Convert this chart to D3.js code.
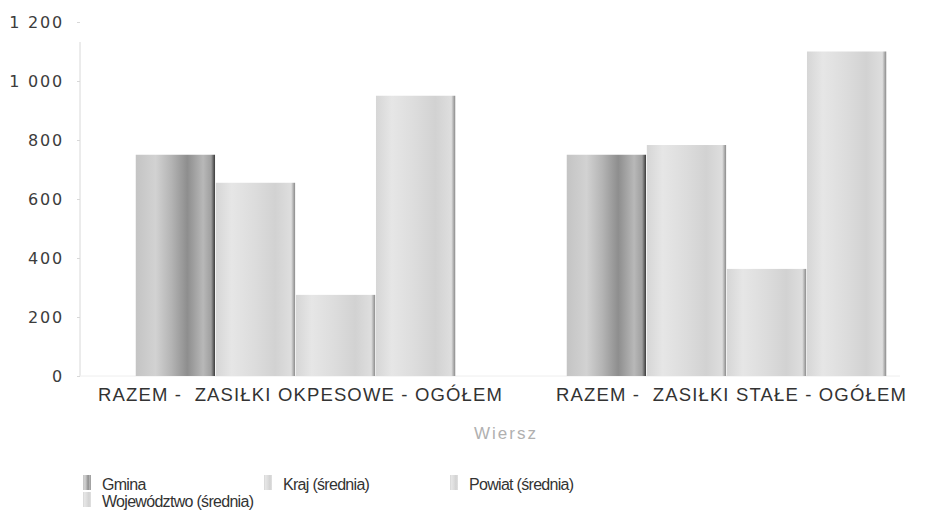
<!DOCTYPE html>
<html>
<head>
<meta charset="utf-8">
<script src="https://cdn.jsdelivr.net/npm/d3@7"></script>
<style>
    body { margin: 0; background: #fff; }
    svg { font-family: "Liberation Sans", Arial, sans-serif; }
</style>
</head>
<body>
<div class="chart"></div>
<script>
var categories = ["RAZEM -  ZASIŁKI OKPESOWE - OGÓŁEM", "RAZEM -  ZASIŁKI STAŁE - OGÓŁEM"];
var seriesNames = ["Gmina", "Kraj (średnia)", "Powiat (średnia)", "Województwo (średnia)"];
var gmina = [750, 750];
var kraj = [655, 783];
var powiat = [275, 363];
var wojewodztwo = [950, 1100];
var yTicks = [0, 200, 400, 600, 800, 1000, 1200];

var width = 936,
    height = 518;

var svg = d3.select(".chart").append("svg")
    .attr("width", width)
    .attr("height", height);

// cylinder-ish gradients, like the scanned original
var defs = svg.append("defs");
var gradDark = defs.append("linearGradient").attr("id", "gDark");
[[0, "#c4c4c4"], [0.25, "#d2d2d2"], [0.45, "#b4b4b4"], [0.65, "#8e8e8e"], [0.85, "#b8b8b8"], [0.95, "#a0a0a0"], [1, "#3a3a3a"]]
    .forEach(function (s) {
        gradDark.append("stop").attr("offset", s[0]).attr("stop-color", s[1]);
    });
var gradLight = defs.append("linearGradient").attr("id", "gLight");
[[0, "#d6d6d6"], [0.2, "#e6e6e6"], [0.5, "#dcdcdc"], [0.75, "#d2d2d2"], [0.95, "#dedede"], [1, "#8a8a8a"]]
    .forEach(function (s) {
        gradLight.append("stop").attr("offset", s[0]).attr("stop-color", s[1]);
    });
var fills = ["url(#gDark)", "url(#gLight)", "url(#gLight)", "url(#gLight)"];

var x0 = d3.scaleBand()
    .domain(categories)
    .range([80, 942])
    .paddingInner(0.255)
    .paddingOuter(0.1275);

var x1 = d3.scaleBand()
    .domain(d3.range(seriesNames.length))
    .range([0, x0.bandwidth()])
    .padding(0.01);

var y = d3.scaleLinear()
    .domain([0, 1200])
    .range([376, 22]);

// y axis
var yAxis = svg.append("g")
    .attr("transform", "translate(80,0)")
    .call(d3.axisLeft(y).tickValues(yTicks).tickSize(3).tickPadding(13)
        .tickFormat(function (d) { return d3.format(",")(d).replace(",", " "); }));
yAxis.select(".domain").attr("stroke", "#d8d8d8").attr("d", "M0," + 42 + "V" + y(0));
yAxis.selectAll(".tick line").attr("stroke", "#d8d8d8");
yAxis.selectAll(".tick text")
    .attr("fill", "#3c3c3c")
    .attr("dy", "0.36em")
    .style("font-family", "'DejaVu Sans', sans-serif")
    .style("font-size", "16px")
    .style("letter-spacing", "1.8px");

// baseline
svg.append("line")
    .attr("x1", 80).attr("x2", 900)
    .attr("y1", y(0)).attr("y2", y(0))
    .attr("stroke", "#eeeeee");

var data = categories.map(function (c, i) {
    return [gmina[i], kraj[i], powiat[i], wojewodztwo[i]];
});

var groups = svg.selectAll("g.grp")
    .data(data)
    .enter().append("g")
    .attr("class", "grp")
    .attr("transform", function (d, i) {
        return "translate(" + x0(categories[i]) + ",0)";
    });

groups.selectAll("rect")
    .data(function (d) { return d; })
    .enter().append("rect")
    .attr("x", function (d, j) { return x1(j); })
    .attr("y", function (d) { return y(d); })
    .attr("width", x1.bandwidth())
    .attr("height", function (d) { return y(0) - y(d); })
    .attr("fill", function (d, j) { return fills[j]; });

// category labels (centre slightly right of the band, as in the original)
svg.selectAll("text.cat")
    .data(categories)
    .enter().append("text")
    .attr("class", "cat")
    .attr("x", function (d) { return x0(d) + x0.bandwidth() / 2 + 5; })
    .attr("y", 401)
    .attr("text-anchor", "middle")
    .attr("fill", "#333")
    .style("font-size", "18.5px")
    .style("letter-spacing", "1.15px")
    .style("white-space", "pre")
    .text(function (d) { return d; });

// axis title
svg.append("text")
    .attr("x", 506)
    .attr("y", 439)
    .attr("text-anchor", "middle")
    .attr("fill", "#b0b0b0")
    .style("font-size", "17px")
    .style("letter-spacing", "2px")
    .text("Wiersz");

// legend
var legendPos = [[83, 490], [264, 490], [450, 490], [83, 507]];
var leg = svg.selectAll("g.leg")
    .data(seriesNames)
    .enter().append("g")
    .attr("class", "leg")
    .attr("transform", function (d, i) {
        return "translate(" + legendPos[i][0] + "," + legendPos[i][1] + ")";
    });
leg.append("rect")
    .attr("x", 0).attr("y", -15)
    .attr("width", 8).attr("height", 15)
    .attr("fill", function (d, i) { return fills[i]; });
leg.append("text")
    .attr("x", 19)
    .attr("y", 0)
    .attr("fill", "#333")
    .style("font-size", "16px")
    .style("letter-spacing", "-0.7px")
    .text(function (d) { return d; });
</script>
</body>
</html>
